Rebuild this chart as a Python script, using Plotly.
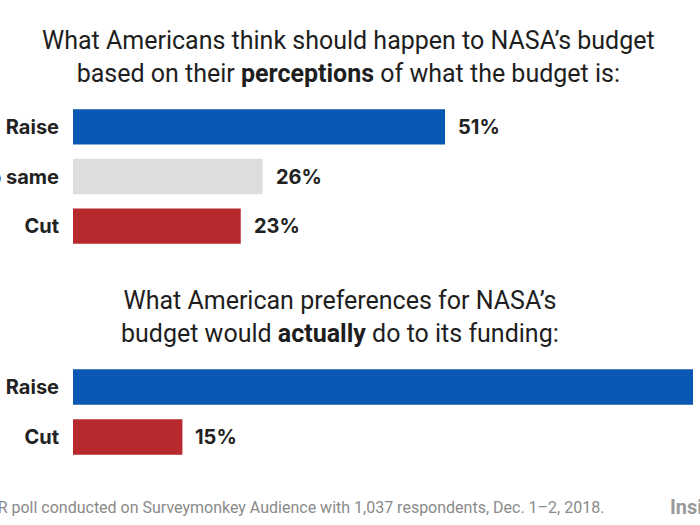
import plotly.graph_objects as go

# Data
top_categories = ["Raise", "Keep same", "Cut"]
top_values = [51, 26, 23]
top_colors = ["#0A58B3", "#DDDDDD", "#B8292D"]

bottom_categories = ["Raise", "Cut"]
bottom_values = [85, 15]
bottom_colors = ["#0A58B3", "#B8292D"]

title_top = "What Americans think should happen to NASA’s budget<br>based on their <b>perceptions</b> of what the budget is:"
title_bottom = "What American preferences for NASA’s<br>budget would <b>actually</b> do to its funding:"
footer = "Source: INSIDER poll conducted on Surveymonkey Audience with 1,037 respondents, Dec. 1–2, 2018."

W, H = 700, 525
TITLE_FONT = "Roboto"
LABEL_FONT = "Inter"

fig = go.Figure()
fig.add_trace(go.Bar(x=top_values, y=top_categories, orientation="h",
                     marker=dict(color=top_colors, line=dict(width=0)),
                     xaxis="x", yaxis="y", hoverinfo="skip"))
fig.add_trace(go.Bar(x=bottom_values, y=bottom_categories, orientation="h",
                     marker=dict(color=bottom_colors, line=dict(width=0)),
                     xaxis="x2", yaxis="y2", hoverinfo="skip"))

px_per_pct = 372 / 51
xmax = (W - 73) / px_per_pct

annotations = []
for cats, vals, xr, yr in [(top_categories, top_values, "x", "y"),
                           (bottom_categories, bottom_values, "x2", "y2")]:
    for c, v in zip(cats, vals):
        annotations.append(dict(x=v, y=c, xref=xr, yref=yr, text=f"<b>{v}%</b>",
                                showarrow=False, xanchor="left", yanchor="middle",
                                xshift=11, font=dict(family=LABEL_FONT, size=20, color="#222222")))

annotations += [
    dict(x=348 / W, y=1 - 57 / H, xref="paper", yref="paper", text=title_top, showarrow=False,
         xanchor="center", yanchor="middle", align="center",
         font=dict(family=TITLE_FONT, size=25, color="#1e1e1e")),
    dict(x=340 / W, y=1 - 317 / H, xref="paper", yref="paper", text=title_bottom, showarrow=False,
         xanchor="center", yanchor="middle", align="center",
         font=dict(family=TITLE_FONT, size=25, color="#1e1e1e")),
    dict(x=606 / W, y=1 - 507 / H, xref="paper", yref="paper", text=footer, showarrow=False,
         xanchor="right", yanchor="middle",
         font=dict(family=TITLE_FONT, size=16, color="#8a8a8a")),
    dict(x=668 / W, y=1 - 507 / H, xref="paper", yref="paper", text="<b>Insider</b>", showarrow=False,
         xanchor="left", yanchor="middle",
         font=dict(family=TITLE_FONT, size=20, color="#9a9a9a")),
]

yaxis_common = dict(autorange="reversed", showgrid=False, zeroline=False, showline=False,
                    ticks="", ticklabelstandoff=13, automargin=False,
                    tickfont=dict(family=LABEL_FONT, size=20, color="#222222", weight="bold"))
xaxis_common = dict(range=[0, xmax], domain=[73 / W, 1], visible=False, showgrid=False,
                    zeroline=False, automargin=False)

fig.update_layout(
    width=W, height=H,
    margin=dict(l=0, r=0, t=0, b=0, pad=0),
    paper_bgcolor="white", plot_bgcolor="white",
    showlegend=False,
    bargap=0.29,
    xaxis=dict(**xaxis_common, anchor="y"),
    xaxis2=dict(**xaxis_common, anchor="y2"),
    yaxis=dict(**yaxis_common, domain=[(H - 251) / H, (H - 102) / H], anchor="x"),
    yaxis2=dict(**yaxis_common, domain=[(H - 462) / H, (H - 362) / H], anchor="x2"),
    annotations=annotations,
)

fig.write_html("out.html")
